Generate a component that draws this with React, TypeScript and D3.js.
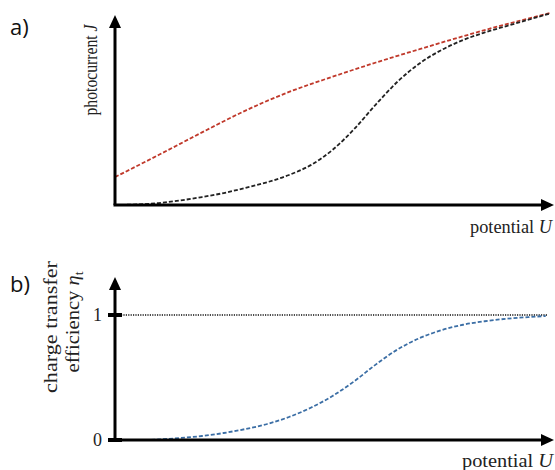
import React from "react";
import * as d3 from "d3";

// potential grid (arb. units)
const gridU = [0, 0.5, 1, 1.5, 2, 2.5, 3, 3.5, 4, 4.5, 5, 5.5, 6, 6.5, 7, 7.5, 8, 8.5, 9, 9.5, 10];

// panel (a): photocurrent J (arb. units)
const redU = [0, 1, 2, 3, 4, 5, 6, 7, 8, 9, 10];
const redJ = [1.47, 2.63, 3.82, 4.97, 5.95, 6.75, 7.5, 8.2, 8.88, 9.52, 10.1];
const blackJ = [0, 0.03, 0.1, 0.24, 0.42, 0.63, 0.9, 1.2, 1.58, 2.1, 2.9, 4.0, 5.3, 6.5, 7.45, 8.15, 8.68, 9.08, 9.42, 9.75, 10.08];

// panel (b): charge transfer efficiency
const blueU = [0, 0.5, 1, 1.5, 2, 2.5, 3, 3.5, 4, 4.5, 5, 5.5, 6, 6.5, 7, 7.5, 8, 8.5, 9, 9.5, 9.9];
const blueEta = [0, 0, 0.004, 0.016, 0.032, 0.056, 0.088, 0.128, 0.184, 0.258, 0.352, 0.47, 0.605, 0.725, 0.815, 0.878, 0.922, 0.95, 0.97, 0.983, 0.992];

const etaTicks = [0, 1];

const SERIF = "'Liberation Serif', 'Times New Roman', serif";
const SANS = "'Open Sans', 'Liberation Sans', sans-serif";

export default function App() {
  const x = d3.scaleLinear().domain([0, 10]).range([115, 550]);
  const yA = d3.scaleLinear().domain([0, 10]).range([205, 15]);
  const yB = d3.scaleLinear().domain([0, 1]).range([440, 315]);

  const lineA = d3
    .line<[number, number]>()
    .x((d) => x(d[0]))
    .y((d) => yA(d[1]))
    .curve(d3.curveMonotoneX);
  const lineB = d3
    .line<[number, number]>()
    .x((d) => x(d[0]))
    .y((d) => yB(d[1]))
    .curve(d3.curveMonotoneX);

  const red = redU.map((u, i) => [u, redJ[i]] as [number, number]);
  const black = gridU.map((u, i) => [u, blackJ[i]] as [number, number]);
  const blue = blueU.map((u, i) => [u, blueEta[i]] as [number, number]);

  const x0 = x(0);
  const xEnd = 554;
  const axisW = 3;

  const arrowUp = (cx: number, tip: number) =>
    `M${cx},${tip} L${cx - 6},${tip + 13} L${cx + 6},${tip + 13} Z`;
  const arrowRight = (tip: number, cy: number) =>
    `M${tip},${cy} L${tip - 13},${cy - 6} L${tip - 13},${cy + 6} Z`;

  return (
    <svg
      width={555}
      height={470}
      style={{ position: "absolute", left: 0, top: 0, background: "#fff" }}
    >
      <rect width={555} height={470} fill="#fff" />

      {/* Panel a */}
      <text x={10} y={35} fontFamily={SANS} fontSize={22} fill="#111">
        a)
      </text>
      <text
        transform={`translate(97, 70) rotate(-90)`}
        textAnchor="middle"
        fontFamily={SERIF}
        fontSize={19}
        fill="#222"
        textLength={91}
        lengthAdjust="spacingAndGlyphs"
      >
        photocurrent <tspan fontStyle="italic">J</tspan>
      </text>

      <path d={lineA(red) || ""} fill="none" stroke="#c0392b" strokeWidth={1.8} strokeDasharray="4,2" />
      <path d={lineA(black) || ""} fill="none" stroke="#222" strokeWidth={1.8} strokeDasharray="4,2" />

      <line x1={x0} y1={yA(0)} x2={x0} y2={26} stroke="#000" strokeWidth={axisW} />
      <path d={arrowUp(x0, 15)} fill="#000" />
      <line x1={x0 - 1.5} y1={yA(0)} x2={xEnd - 12} y2={yA(0)} stroke="#000" strokeWidth={axisW} />
      <path d={arrowRight(xEnd, yA(0))} fill="#000" />

      <text
        x={470}
        y={233}
        fontFamily={SERIF}
        fontSize={18}
        fill="#222"
        textLength={82}
        lengthAdjust="spacingAndGlyphs"
      >
        potential <tspan fontStyle="italic">U</tspan>
      </text>

      {/* Panel b */}
      <text x={10} y={292} fontFamily={SANS} fontSize={22} fill="#111">
        b)
      </text>
      <text
        transform={`translate(57, 327) rotate(-90)`}
        textAnchor="middle"
        fontFamily={SERIF}
        fontSize={18}
        fill="#222"
        textLength={132}
        lengthAdjust="spacingAndGlyphs"
      >
        charge transfer
      </text>
      <text
        transform={`translate(79, 322) rotate(-90)`}
        textAnchor="middle"
        fontFamily={SERIF}
        fontSize={18}
        fill="#222"
        textLength={101}
        lengthAdjust="spacingAndGlyphs"
      >
        efficiency <tspan fontStyle="italic">η</tspan>
        <tspan fontSize={12} dy={4}>t</tspan>
      </text>

      <line
        x1={x0 + 6}
        y1={yB(1)}
        x2={547}
        y2={yB(1)}
        stroke="#111"
        strokeWidth={1.3}
        strokeDasharray="1.2,1.2"
      />
      <path d={lineB(blue) || ""} fill="none" stroke="#3b6ea5" strokeWidth={1.8} strokeDasharray="4,2" />

      <line x1={x0} y1={yB(0)} x2={x0} y2={288} stroke="#000" strokeWidth={axisW} />
      <path d={arrowUp(x0, 277)} fill="#000" />
      <line x1={x0 - 1.5} y1={yB(0)} x2={xEnd - 12} y2={yB(0)} stroke="#000" strokeWidth={axisW} />
      <path d={arrowRight(xEnd, yB(0))} fill="#000" />

      {etaTicks.map((t) => (
        <g key={t}>
          <line x1={x0 - 7} y1={yB(t)} x2={x0 + 7} y2={yB(t)} stroke="#000" strokeWidth={4} />
          <text
            x={102}
            y={yB(t)}
            dy="0.35em"
            textAnchor="end"
            fontFamily={SERIF}
            fontSize={18}
            fill="#222"
          >
            {t}
          </text>
        </g>
      ))}

      <text
        x={462}
        y={467}
        fontFamily={SERIF}
        fontSize={19.5}
        fill="#222"
        textLength={91}
        lengthAdjust="spacingAndGlyphs"
      >
        potential <tspan fontStyle="italic">U</tspan>
      </text>
    </svg>
  );
}
